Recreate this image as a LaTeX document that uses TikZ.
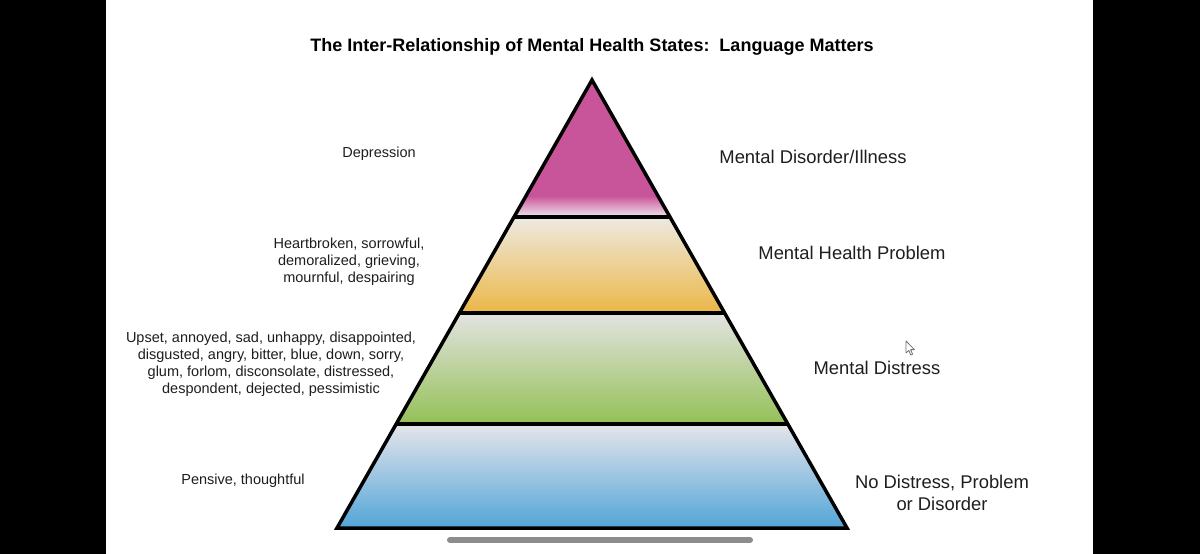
\documentclass[tikz,border=0pt]{standalone}
\usepackage{fontspec}
\setmainfont{Liberation Sans}
\definecolor{ink}{HTML}{1E1E1E}
\definecolor{mag}{HTML}{C8559A}
\definecolor{magfade}{HTML}{F1E6EE}
\definecolor{orgtop}{HTML}{EEE9E2}
\definecolor{orgbot}{HTML}{EBB746}
\definecolor{grntop}{HTML}{E3E3E1}
\definecolor{grnbot}{HTML}{94C056}
\definecolor{blutop}{HTML}{E5E5EA}
\definecolor{blubot}{HTML}{52A5D8}
\definecolor{homebar}{HTML}{8C8C8C}
\tikzset{
  leftlbl/.style={font=\fontsize{14.5}{17}\selectfont, text=ink, align=center, inner sep=0pt},
  rightlbl/.style={font=\fontsize{18.4}{22}\selectfont, text=ink, align=center, inner sep=0pt},
  titlelbl/.style={font=\fontsize{18}{22}\selectfont\bfseries, text=black, inner sep=0pt},
  tierline/.style={line width=3.5pt, black},
}
\begin{document}
\begin{tikzpicture}[x=1pt,y=-1pt]
\fill[white] (0,0) rectangle (1200,554);
\useasboundingbox (0,0) rectangle (1200,554);
\fill[black] (0,0) rectangle (106,554);
\fill[black] (1093,0) rectangle (1200,554);

% pyramid geometry
\coordinate (A) at (592,80);
\coordinate (L1l) at (514,217);
\coordinate (L1r) at (670,217);
\coordinate (L2l) at (459,313);
\coordinate (L2r) at (725,313);
\coordinate (L3l) at (396,424);
\coordinate (L3r) at (788,424);
\coordinate (Bl) at (337,528);
\coordinate (Br) at (847,528);

% tier fills
\fill[mag] (A) -- (L1r) -- (L1l) -- cycle;
\begin{scope}
  \clip (A) -- (L1r) -- (L1l) -- cycle;
  \shade[top color=mag, bottom color=magfade] (500,196) rectangle (690,217);
\end{scope}
\shade[top color=orgtop, bottom color=orgbot] (L1l) -- (L1r) -- (L2r) -- (L2l) -- cycle;
\shade[top color=grntop, bottom color=grnbot] (L2l) -- (L2r) -- (L3r) -- (L3l) -- cycle;
\shade[top color=blutop, bottom color=blubot] (L3l) -- (L3r) -- (Br) -- (Bl) -- cycle;

% outlines
\draw[tierline, line join=miter] (A) -- (Br) -- (Bl) -- cycle;
\draw[tierline] (L1l) -- (L1r);
\draw[tierline] (L2l) -- (L2r);
\draw[tierline] (L3l) -- (L3r);

% title
\node[titlelbl] (title) at (592,47) {The Inter-Relationship of Mental Health States:\ \ Language Matters};

% left labels
\node[leftlbl] (dep) at (379,154) {Depression};
\node[leftlbl] (heart) at (349,262) {Heartbroken, sorrowful,\\demoralized, grieving,\\mournful, despairing};
\node[leftlbl] (upset) at (271,364) {Upset, annoyed, sad, unhappy, disappointed,\\disgusted, angry, bitter, blue, down, sorry,\\glum, forlom, disconsolate, distressed,\\despondent, dejected, pessimistic};
\node[leftlbl] (pens) at (243,481) {Pensive, thoughtful};

% right labels
\node[rightlbl] (ill) at (813,157) {Mental Disorder/Illness};
\node[rightlbl] (prob) at (852,253) {Mental Health Problem};
\node[rightlbl] (dist) at (877,368) {Mental Distress};
\node[rightlbl] (none) at (942,493) {No Distress, Problem\\or Disorder};

% mouse pointer
\draw[homebar!80!black, fill=white, line width=0.8pt, line join=round]
  (906,341) -- (906,353) -- (908.8,350.4) -- (910.8,355) -- (912.6,354.2) -- (910.6,349.6) -- (914.4,349.6) -- cycle;

% home indicator
\draw[homebar, line width=6pt, line cap=round] (450,540) -- (750,540);
\end{tikzpicture}
\end{document}
